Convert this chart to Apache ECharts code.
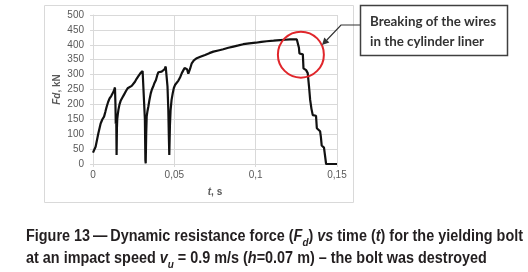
<!DOCTYPE html>
<html>
<head>
<meta charset="utf-8">
<script src="https://cdn.jsdelivr.net/npm/echarts@6/dist/echarts.min.js"></script>
<style>
  html, body { margin: 0; padding: 0; background: #fff; }
  #main { width: 528px; height: 272px; }
</style>
</head>
<body>
<div id="main"></div>
<script>
// time, s
let timeS = [0, 0.0016, 0.0033, 0.0047, 0.0058, 0.0068, 0.0076, 0.0084, 0.0093, 0.0102, 0.0112, 0.0121, 0.0128, 0.0135,
    0.0138, 0.0140, 0.0143, 0.0145, 0.0147, 0.0149, 0.0152, 0.0156, 0.0163, 0.0170, 0.0180, 0.0190, 0.0202, 0.0213,
    0.0225, 0.0238, 0.0248, 0.0258, 0.0268, 0.0279, 0.0292, 0.0305, 0.0316, 0.0319, 0.0322, 0.0324, 0.0327, 0.0330,
    0.0335, 0.0340, 0.0347, 0.0355, 0.0362, 0.0370, 0.0378, 0.0387, 0.0395, 0.0402, 0.0412, 0.0422, 0.0432, 0.0440,
    0.0447, 0.0453, 0.0458, 0.0463, 0.0466, 0.0469, 0.0473, 0.0477, 0.0483, 0.0490, 0.0497, 0.0504, 0.0515, 0.0525,
    0.0535, 0.0546, 0.0556, 0.0563, 0.0570, 0.0578, 0.0586, 0.0596, 0.0607, 0.0620, 0.0638, 0.0660, 0.0689, 0.0715,
    0.0740, 0.0770, 0.0801, 0.0832, 0.0863, 0.0894, 0.0924, 0.0960, 0.1000, 0.1035, 0.1068, 0.1110, 0.1150, 0.1180,
    0.1212, 0.1235, 0.1253, 0.1262, 0.1266, 0.1269, 0.1280, 0.1290, 0.1294, 0.1300, 0.1310, 0.1320, 0.1328, 0.1335,
    0.1343, 0.1351, 0.1362, 0.1371, 0.1376, 0.1386, 0.1396, 0.1401, 0.1406, 0.1414, 0.1420, 0.1426, 0.1433, 0.1450, 0.1500];
// Fd, kN
let forceKN = [38, 58, 103, 136, 150, 159, 175, 192, 208, 220, 228, 233, 245, 257,
    200, 135, 150, 30, 120, 150, 165, 181, 200, 212, 222, 232, 244, 254,
    258, 262, 268, 276, 286, 295, 305, 312, 315, 150, 13, 2, 100, 159,
    178, 192, 215, 237, 250, 260, 272, 282, 298, 308, 306, 310, 315, 318,
    327, 326, 260, 181, 100, 30, 130, 181, 215, 237, 255, 265, 270, 280,
    290, 305, 315, 322, 326, 318, 303, 318, 338, 348, 355, 360, 366, 372,
    377, 381, 385, 390, 394, 398, 402, 405, 407, 410, 412, 414, 416, 417,
    418, 418, 418, 416, 390, 371, 370, 368, 321, 318, 315, 305, 260, 215,
    185, 164, 164, 162, 120, 116, 110, 90, 62, 58, 55, 30, 0, 0, 0];
let yTicks = [0, 50, 100, 150, 200, 250, 300, 350, 400, 450, 500];

// annotation anchors (data coords)
let circleAt = [0.1278, 367];
let arrowTip = [0.1408, 399];
let noteLines = ["Breaking of the wires", "in the cylinder liner"];

let grey = "#d9d9d9";
let labelColor = "#595959";
let baseFont = "'Liberation Sans', Arial, sans-serif";

let chart = echarts.init(document.getElementById("main"));

let ctx = document.createElement("canvas").getContext("2d");
function textWidth(str, font) {
    ctx.font = font;
    return ctx.measureText(str).width;
}

// caption pieces: [text, richKey]
let capLine1 = [["Figure 13\u2009\u2014\u2009Dynamic resistance force (", "b"], ["F", "bi"], ["d", "sub"], [") ", "b"],
    ["vs", "bi"], [" time (", "b"], ["t", "bi"], [") for the yielding bolt", "b"]];
let capLine2 = [["at an impact speed ", "b"], ["v", "bi"], ["u", "sub"], [" = 0.9 m/s (", "b"], ["h", "bi"],
    ["=0.07 m) \u2013 the bolt was destroyed", "b"]];
let capFonts = {
    b: "bold 16px " + baseFont,
    bi: "italic bold 16px " + baseFont,
    sub: "italic bold 11px " + baseFont
};
function lineWidth(parts) {
    let w = 0;
    parts.forEach(function (p) { w += textWidth(p[0], capFonts[p[1]]); });
    return w;
}
function toRich(parts) {
    return parts.map(function (p) { return "{" + p[1] + "|" + p[0] + "}"; }).join("");
}
let capScale = 497 / lineWidth(capLine1);

let noteFont = "bold 12.5px Lato, 'Open Sans', sans-serif";
let noteScale = 126 / textWidth(noteLines[0], noteFont);

let nameRich = {
    i: { fontStyle: "italic", fontWeight: "bold", fontSize: 10, color: labelColor, fontFamily: baseFont },
    b: { fontWeight: "bold", fontSize: 10, color: labelColor, fontFamily: baseFont }
};

let option = {
    animation: false,
    grid: { left: 93, top: 15, width: 244, height: 149 },
    xAxis: {
        type: "value",
        min: 0,
        max: 0.15,
        interval: 0.05,
        name: "{i|t}{b|, s}",
        nameLocation: "middle",
        nameGap: 23,
        nameTextStyle: { rich: nameRich },
        axisLine: { lineStyle: { color: grey } },
        axisTick: { show: true, length: 3, lineStyle: { color: grey } },
        splitLine: { show: true, lineStyle: { color: grey } },
        axisLabel: {
            color: labelColor,
            fontSize: 10,
            fontFamily: baseFont,
            margin: 6,
            formatter: function (v) {
                return String(+v.toFixed(2)).replace(".", ",");
            }
        }
    },
    yAxis: {
        type: "value",
        min: 0,
        max: 500,
        interval: 50,
        name: "{i|Fd}{b|, kN}",
        nameLocation: "middle",
        nameGap: 31,
        nameTextStyle: { rich: nameRich },
        axisLine: { show: true, lineStyle: { color: grey } },
        axisTick: { show: true, length: 3, lineStyle: { color: grey } },
        splitLine: { show: true, lineStyle: { color: grey } },
        axisLabel: {
            color: labelColor,
            fontSize: 10,
            fontFamily: baseFont,
            margin: 9,
            customValues: yTicks
        }
    },
    series: [{
        type: "line",
        data: timeS.map(function (t, i) { return [t, forceKN[i]]; }),
        showSymbol: false,
        lineStyle: { color: "#111", width: 2.2 },
        z: 3
    }]
};
chart.setOption(option);

// annotations placed from data coords
let c = chart.convertToPixel({ gridIndex: 0 }, circleAt);
let tip = chart.convertToPixel({ gridIndex: 0 }, arrowTip);
let bend = [341, 25];
let ang = Math.atan2(tip[1] - bend[1], tip[0] - bend[0]);
let ah = 7, aw = 3.5;
let back = [tip[0] - ah * Math.cos(ang), tip[1] - ah * Math.sin(ang)];
let headPts = [
    tip,
    [back[0] + aw * Math.sin(ang), back[1] - aw * Math.cos(ang)],
    [back[0] - aw * Math.sin(ang), back[1] + aw * Math.cos(ang)]
];

chart.setOption({
    graphic: [
        // outer chart border
        { type: "rect", shape: { x: 44.5, y: 5.5, width: 309, height: 197 }, style: { fill: "none", stroke: grey, lineWidth: 1 }, z: 0 },
        // red circle
        { type: "circle", shape: { cx: c[0], cy: c[1], r: 23 }, style: { fill: "none", stroke: "#e0262b", lineWidth: 2 }, z: 10 },
        // connector + arrow head
        { type: "polyline", shape: { points: [[360, 25], bend, back] }, style: { stroke: "#333", lineWidth: 1.2, fill: null }, z: 10 },
        { type: "polygon", shape: { points: headPts }, style: { fill: "#333" }, z: 10 },
        // note box
        { type: "rect", shape: { x: 360.5, y: 5.5, width: 147, height: 50 }, style: { fill: "#fff", stroke: "#404040", lineWidth: 1.5 }, z: 10 },
        {
            type: "text", x: 370, y: 12, scaleX: noteScale, z: 11,
            style: { text: noteLines.join("\n"), font: noteFont, fill: "#333", lineHeight: 20, verticalAlign: "top" }
        },
        // caption
        {
            type: "text", x: 26, y: 226, scaleX: capScale, z: 11,
            style: {
                text: toRich(capLine1) + "\n" + toRich(capLine2),
                verticalAlign: "top",
                rich: {
                    b: { font: capFonts.b, fill: "#231f20", lineHeight: 22 },
                    bi: { font: capFonts.bi, fill: "#231f20", lineHeight: 22 },
                    sub: { font: capFonts.sub, fill: "#231f20", lineHeight: 22, verticalAlign: "bottom" }
                }
            }
        }
    ]
});
</script>
</body>
</html>
